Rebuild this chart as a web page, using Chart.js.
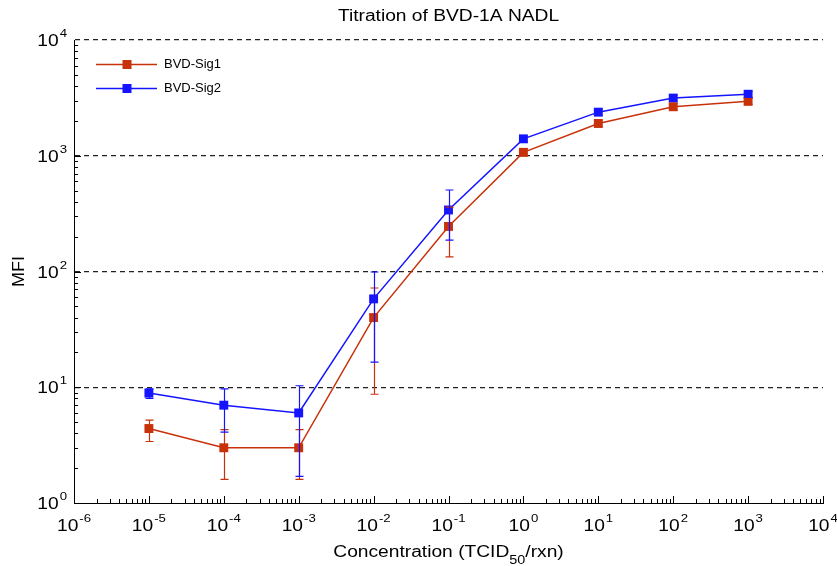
<!DOCTYPE html>
<html>
<head>
<meta charset="utf-8">
<title>Titration of BVD-1A NADL</title>
<script src="https://cdn.jsdelivr.net/npm/chart.js@4/dist/chart.umd.min.js"></script>
<style>
  html, body { margin: 0; padding: 0; background: #fff; }
  canvas { display: block; }
</style>
</head>
<body>
<canvas id="titrationChart" width="837" height="566"></canvas>
<script>
// concentraciones (TCID50/rxn) y MFI de cada señal
const concentrations = [1e-5, 1e-4, 1e-3, 1e-2, 1e-1, 1, 10, 100, 1000];

const sig1Mfi  = [4.4, 3.0, 3.0, 40, 245, 1070, 1900, 2650, 2950];
const sig1Low  = [3.4, 1.6, 1.6, 8.7, 134, 1000, 1780, 2480, 2780];
const sig1High = [5.2, 4.3, 4.3, 72, 360, 1150, 2030, 2820, 3130];

const sig2Mfi  = [8.9, 7.0, 6.0, 58, 340, 1400, 2380, 3150, 3400];
const sig2Low  = [8.0, 4.1, 1.7, 16.5, 187, 1320, 2230, 2960, 3200];
const sig2High = [9.7, 9.7, 10.3, 99, 506, 1480, 2530, 3340, 3600];

const seriesNames = ['BVD-Sig1', 'BVD-Sig2'];
const xExponents = [-6, -5, -4, -3, -2, -1, 0, 1, 2, 3, 4];
const yExponents = [0, 1, 2, 3, 4];

const RED = '#c8320a';
const BLUE = '#1414ff';
const FONT = "'Liberation Sans', Arial, sans-serif";
const STRETCH = 1.2; // texto un poco ensanchado

const toPoints = (ys) => concentrations.map((x, i) => ({ x: x, y: ys[i] }));
const errorBars = [
  { low: sig1Low, high: sig1High, color: RED },
  { low: sig2Low, high: sig2High, color: BLUE },
];

// texto con escala horizontal, alineado a la izquierda
function textWidth(ctx, txt, size) {
  ctx.font = size + 'px ' + FONT;
  return ctx.measureText(txt).width * STRETCH;
}
function stretchedText(ctx, txt, size, x, y) {
  ctx.save();
  ctx.font = size + 'px ' + FONT;
  ctx.textAlign = 'left';
  ctx.textBaseline = 'alphabetic';
  ctx.translate(x, y);
  ctx.scale(STRETCH, 1);
  ctx.fillText(txt, 0, 0);
  ctx.restore();
}

// dibuja "10" con el exponente arriba
function drawPower(ctx, exp, x, y, align) {
  const wBase = textWidth(ctx, '10', 16);
  const sup = String(exp);
  const wSup = textWidth(ctx, sup, 11);
  const total = wBase + 1 + wSup;
  let left = x;
  if (align === 'center') left = x - total / 2;
  if (align === 'right') left = x - total;
  stretchedText(ctx, '10', 16, left, y);
  stretchedText(ctx, sup, 11, left + wBase + 1, y - 9);
}

// barras de error verticales con tope
const errorBarPlugin = {
  id: 'errorBars',
  afterDatasetsDraw(chart) {
    const { ctx, scales: { x, y } } = chart;
    ctx.save();
    ctx.lineWidth = 1.2;
    errorBars.forEach(eb => {
      ctx.strokeStyle = eb.color;
      concentrations.forEach((c, i) => {
        const px = Math.round(x.getPixelForValue(c)) + 0.5;
        const yLo = y.getPixelForValue(eb.low[i]);
        const yHi = y.getPixelForValue(eb.high[i]);
        ctx.beginPath();
        ctx.moveTo(px, yLo); ctx.lineTo(px, yHi);
        ctx.moveTo(px - 4, yLo); ctx.lineTo(px + 4, yLo);
        ctx.moveTo(px - 4, yHi); ctx.lineTo(px + 4, yHi);
        ctx.stroke();
      });
    });
    ctx.restore();
  }
};

// marcas menores, etiquetas de ejes, titulo y leyenda
const decorPlugin = {
  id: 'decor',
  afterDraw(chart) {
    const { ctx, chartArea: area, scales: { x, y } } = chart;
    ctx.save();
    ctx.strokeStyle = '#000';
    ctx.lineWidth = 1;
    ctx.beginPath();
    for (let e = -6; e < 4; e++) {
      for (let k = 1; k < 10; k++) {
        const px = Math.round(x.getPixelForValue(k * Math.pow(10, e))) + 0.5;
        const len = k === 1 ? 7 : 4;
        ctx.moveTo(px, area.bottom); ctx.lineTo(px, area.bottom - len);
      }
    }
    const pxEnd = Math.round(x.getPixelForValue(1e4)) + 0.5;
    ctx.moveTo(pxEnd, area.bottom); ctx.lineTo(pxEnd, area.bottom - 7);
    for (let e = 0; e < 4; e++) {
      for (let k = 1; k < 10; k++) {
        const py = Math.round(y.getPixelForValue(k * Math.pow(10, e))) + 0.5;
        const len = k === 1 ? 7 : 4;
        ctx.moveTo(area.left, py); ctx.lineTo(area.left + len, py);
      }
    }
    ctx.stroke();

    ctx.fillStyle = '#000';
    xExponents.forEach(e => {
      drawPower(ctx, e, x.getPixelForValue(Math.pow(10, e)), area.bottom + 28, 'center');
    });
    yExponents.forEach(e => {
      drawPower(ctx, e, area.left - 7, y.getPixelForValue(Math.pow(10, e)) + 6, 'right');
    });

    const midX = (area.left + area.right) / 2;

    // titulo
    const title = 'Titration of BVD-1A NADL';
    stretchedText(ctx, title, 16, midX - textWidth(ctx, title, 16) / 2, 21);

    // eje x con subindice
    const part1 = 'Concentration (TCID';
    const sub = '50';
    const part2 = '/rxn)';
    const w1 = textWidth(ctx, part1, 16);
    const w2 = textWidth(ctx, sub, 12);
    const w3 = textWidth(ctx, part2, 16);
    const lx = midX - (w1 + w2 + w3) / 2;
    stretchedText(ctx, part1, 16, lx, 557);
    stretchedText(ctx, sub, 12, lx + w1, 564);
    stretchedText(ctx, part2, 16, lx + w1 + w2, 557);

    // eje y
    ctx.save();
    ctx.translate(24, (area.top + area.bottom) / 2);
    ctx.rotate(-Math.PI / 2);
    ctx.textAlign = 'center';
    ctx.font = '16px ' + FONT;
    ctx.scale(1.12, 1);
    ctx.fillText('MFI', 0, 0);
    ctx.restore();

    // leyenda
    const colors = [RED, BLUE];
    seriesNames.forEach((name, i) => {
      const ly = 64 + i * 24 + 0.5;
      ctx.strokeStyle = colors[i];
      ctx.fillStyle = colors[i];
      ctx.lineWidth = 1.5;
      ctx.beginPath();
      ctx.moveTo(96, ly); ctx.lineTo(157, ly);
      ctx.stroke();
      ctx.fillRect(122.5, ly - 4.5, 9, 9);
      ctx.fillStyle = '#000';
      ctx.font = '13px ' + FONT;
      ctx.textAlign = 'left';
      ctx.textBaseline = 'middle';
      ctx.fillText(name, 164, ly);
    });
    ctx.restore();
  }
};

const decades = (exps) => exps.map(e => ({ value: Math.pow(10, e) }));

new Chart(document.getElementById('titrationChart'), {
  type: 'line',
  data: {
    datasets: [
      {
        label: seriesNames[0],
        data: toPoints(sig1Mfi),
        borderColor: RED,
        backgroundColor: RED,
        borderWidth: 1.5,
        pointStyle: 'rect',
        pointRadius: 6.3,
        pointBorderWidth: 0,
        tension: 0
      },
      {
        label: seriesNames[1],
        data: toPoints(sig2Mfi),
        borderColor: BLUE,
        backgroundColor: BLUE,
        borderWidth: 1.5,
        pointStyle: 'rect',
        pointRadius: 6.3,
        pointBorderWidth: 0,
        tension: 0
      }
    ]
  },
  options: {
    responsive: false,
    animation: false,
    layout: { padding: { left: 74, right: 14, top: 40, bottom: 63 } },
    scales: {
      x: {
        type: 'logarithmic',
        min: 1e-6,
        max: 1e4,
        afterBuildTicks: scale => { scale.ticks = decades(xExponents); },
        ticks: { display: false },
        grid: { display: false, drawTicks: false },
        border: { color: '#000', width: 1 }
      },
      y: {
        type: 'logarithmic',
        min: 1,
        max: 1e4,
        afterBuildTicks: scale => { scale.ticks = decades(yExponents); },
        ticks: { display: false },
        grid: {
          drawTicks: false,
          color: c => (c.tick && c.tick.value === 1) ? 'rgba(0,0,0,0)' : '#222',
          lineWidth: 1.2
        },
        border: { color: '#000', width: 1, dash: [5, 4] }
      }
    },
    plugins: {
      legend: { display: false },
      tooltip: { enabled: false }
    }
  },
  plugins: [errorBarPlugin, decorPlugin]
});
</script>
</body>
</html>
